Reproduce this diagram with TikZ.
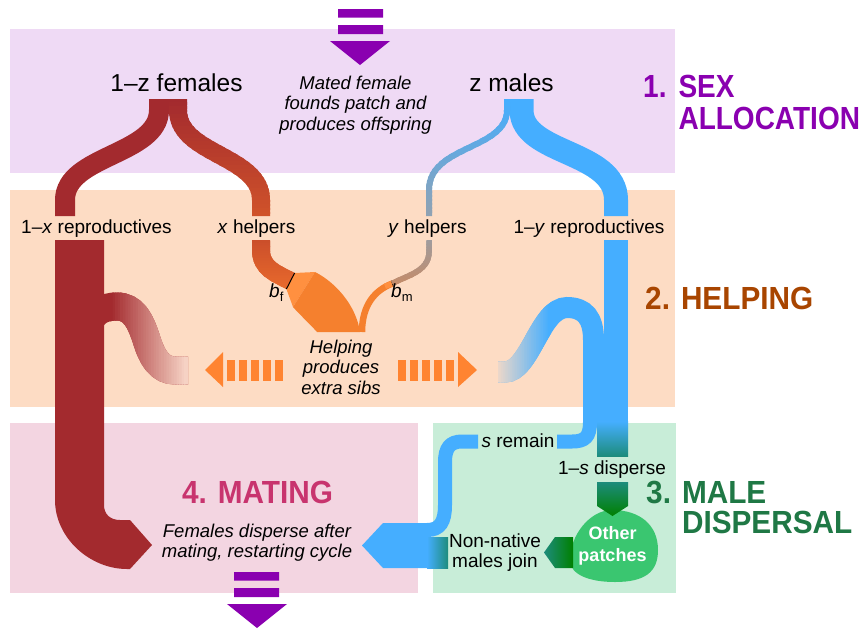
\documentclass[tikz,border=0pt]{standalone}
\usepackage{fontspec}
\setmainfont{Liberation Sans}
\newfontfamily\headfont{Liberation Sans}[FakeStretch=0.93]
\newfontfamily\headfontn{Liberation Sans}[FakeStretch=0.875]
\definecolor{bandP}{HTML}{EFDAF5}
\definecolor{bandO}{HTML}{FDDCC4}
\definecolor{bandK}{HTML}{F3D5E1}
\definecolor{bandG}{HTML}{C8EDD8}
\definecolor{purp}{HTML}{8A00B0}
\definecolor{helpT}{HTML}{A84500}
\definecolor{dispT}{HTML}{1F7845}
\definecolor{mateT}{HTML}{C8346E}
\definecolor{fem}{HTML}{A32A2E}
\definecolor{femH}{HTML}{CF522A}
\definecolor{femHb}{HTML}{E86A2C}
\definecolor{orng}{HTML}{F5802E}
\definecolor{lorng}{HTML}{FF9040}
\definecolor{arrO}{HTML}{FF8431}
\definecolor{blu}{HTML}{45AEFF}
\definecolor{greyb}{HTML}{8EA2B4}
\definecolor{tanc}{HTML}{C58B68}
\definecolor{tealc}{HTML}{1D8C7C}
\definecolor{grn}{HTML}{008000}
\definecolor{blobc}{HTML}{3AC670}
\definecolor{fadeR}{HTML}{F6D2C4}
\colorlet{fadeB}{blu!10!bandO}
% gradient strokes by overlapping stripes
\newcommand\vgrad[6]{%
  \foreach \i in {0,...,29}{%
    \pgfmathsetmacro\ya{#5+(#6-#5)*\i/30}%
    \pgfmathsetmacro\yb{#5+(#6-#5)*(\i+1)/30+1.2}%
    \pgfmathtruncatemacro\pc{round(100-\i*100/29)}%
    \begin{scope}
      \clip (-50,\ya) rectangle (950,\yb);
      \draw[line width=#2,#3!\pc!#4] #1;
    \end{scope}}}
\newcommand\hgrad[6]{%
  \foreach \i in {0,...,29}{%
    \pgfmathsetmacro\xa{#5+(#6-#5)*\i/30}%
    \pgfmathsetmacro\xb{#5+(#6-#5)*(\i+1)/30+1.2}%
    \pgfmathtruncatemacro\pc{round(100-\i*100/29)}%
    \begin{scope}
      \clip (\xa,-50) rectangle (\xb,700);
      \draw[line width=#2,#3!\pc!#4] #1;
    \end{scope}}}
\begin{document}
\begin{tikzpicture}[x=1pt,y=-1pt,
  lbl/.style={font=\fontsize{19}{22}\selectfont, inner sep=0, anchor=base},
  big/.style={font=\fontsize{24.5}{28}\selectfont, inner sep=0, anchor=base},
  itl/.style={font=\fontsize{18.5}{20.5}\selectfont\itshape, inner sep=0, anchor=base},
  head/.style={font=\headfont\bfseries\fontsize{32}{31}\selectfont, inner sep=0, anchor=base west},
  flow/.style={line width=#1},
]
\useasboundingbox (0,0) rectangle (867,630);
% bands
\fill[bandP] (10,29) rectangle (675,173);
\fill[bandO] (10,190) rectangle (675,407);
\fill[bandK] (10,423) rectangle (418,593);
\fill[bandG] (433,423) rectangle (676,593);
% purple arrows
\fill[purp] (338,9) rectangle (383,17.5) (338,25) rectangle (383,34);
\fill[purp] (330,41) -- (390,41) -- (360,65) -- cycle;
\fill[purp] (234,572) rectangle (279,580.5) (234,588) rectangle (279,597);
\fill[purp] (227,604) -- (287,604) -- (257,628) -- cycle;
% orange arrows
\fill[arrO] (205,370) -- (223,352) -- (223,387) -- cycle;
\foreach \x in {227,239,251,263,275} \fill[arrO] (\x,360) rectangle (\x+8,381);
\foreach \x in {398,410,422,434,446} \fill[arrO] (\x,360) rectangle (\x+8,381);
\fill[arrO] (477,370) -- (458,352) -- (458,387) -- cycle;
% ---------- females ----------
\coordinate (femtop) at (159,99);
\draw[flow=20, fem] (femtop) -- (159,110) .. controls (159,155) and (65,155) .. (65,200) -- (65,216);
\vgrad{(178,99) -- (178,110) .. controls (178,155) and (261,155) .. (261,200) -- (261,216)}{18}{fem}{femH}{99}{216}
\fill[fem] (55,240) -- (55,500) .. controls (55,538) and (90,569) .. (127,569) -- (130,569) -- (152,545) -- (130,520) -- (120,520) .. controls (110,520) and (104,514) .. (104,505) -- (104,240) -- cycle;
\draw[flow=28, fem] (89,400) -- (89,330) .. controls (89,314) and (101,306.5) .. (117,306.5) .. controls (133,306.5) and (140,320) .. (146,338) .. controls (152,358) and (160,370.5) .. (175,370.5) -- (188,370.5);
\hgrad{(89,400) -- (89,330) .. controls (89,314) and (101,306.5) .. (117,306.5) .. controls (133,306.5) and (140,320) .. (146,338) .. controls (152,358) and (160,370.5) .. (175,370.5) -- (188,370.5)}{28}{fem}{fadeR}{110}{186.8}
% x helpers lower
\vgrad{(261,240) -- (261,250) .. controls (261,268) and (275,273) .. (290.5,281)}{18}{femH!90!fem}{femHb}{240}{290}
\fill[lorng] (286.4,289) -- (294.6,273) -- (315,272) -- (293,307) -- cycle;
\fill[orng] (315,272) .. controls (335,282) and (356,305) .. (360,332) -- (317,332) .. controls (308,322) and (300,315) .. (293,307) -- cycle;
\draw[flow=6.5, orng] (392.5,283.5) .. controls (375,290) and (362,305) .. (362,332);
\draw[flow=5.5, lorng] (392.5,283.5) -- (385,286.3);
\draw[line width=1, black] (286.4,289) -- (294.6,273);
\draw[line width=0.9, black] (391.5,280.7) -- (393.5,286.3);
% ---------- males ----------
\draw[flow=24, blu] (521.5,99) -- (521.5,110) .. controls (521.5,155) and (616,150) .. (616,200) -- (616,216);
\vgrad{(507,99) -- (507,110) .. controls (507,150) and (429,145) .. (429,190) -- (429,216)}{6}{blu}{greyb}{99}{214.8}
\vgrad{(429,240) -- (429,252) .. controls (429,272) and (405,276) .. (392.5,283.5)}{5.5}{greyb!70!tanc}{tanc}{240}{287}
\draw[flow=24, blu] (616,240) -- (616,360);
\draw[flow=21, blu] (498,372) -- (505,372) .. controls (530,372) and (540,307.5) .. (567,307.5) .. controls (585,307.5) and (593.5,318) .. (593.5,340) -- (593.5,400);
\hgrad{(498,372) -- (505,372) .. controls (530,372) and (540,307.5) .. (567,307.5) .. controls (585,307.5) and (593.5,318) .. (593.5,340)}{21}{fadeB}{blu}{498}{550}
\fill[blu] (597,353) rectangle (628,422);
\shade[top color=blu, bottom color=tealc] (597,421.5) rectangle (628,456);
\draw[flow=14, blu] (590,395) -- (590,422) .. controls (590,437) and (585,441.5) .. (572,441.5) -- (557,441.5);
\draw[flow=14, blu] (478,441.5) -- (462,441.5) .. controls (450,441.5) and (445,448) .. (445,462) -- (445,505) .. controls (445,522) and (440,530) .. (427,530);
\fill[blu] (431,523) -- (383,523) -- (362,545.5) -- (383,568) -- (431,568) -- cycle;
\shade[left color=blu, right color=tealc] (427,537) rectangle (448,568);
% other patches
\fill[blobc] (612,510) .. controls (640,510) and (658,525) .. (658,550) .. controls (658,572) and (645,582) .. (615,582) .. controls (590,582) and (570,575) .. (570,560) .. controls (570,535) and (590,510) .. (612,510) -- cycle;
\shade[top color=tealc, bottom color=grn] (597,482) -- (628,482) -- (628,506) -- (612.5,516) -- (597,506) -- cycle;
\shade[left color=tealc, right color=grn] (573,537) -- (555,537) -- (544,552.5) -- (555,568) -- (573,568) -- cycle;
% ---------- texts ----------
\node[big] (tf) at (176.5,91) {1--z females};
\node[big] (tm) at (511.5,91) {z males};
\node[itl] (tmated) at (355.5,89) {\begin{tabular}[t]{@{}c@{}}Mated female\\founds patch and\\produces offspring\end{tabular}};
\node[head, text=purp, font=\headfontn\bfseries\fontsize{32}{31}\selectfont] (h1) at (643,97) {\begin{tabular}[t]{@{}l@{\hspace{12pt}}l@{}}1.&SEX\\[1pt]&ALLOCATION\end{tabular}};
\node[head, text=helpT] (h2) at (645,309) {2.\hspace{11pt}HELPING};
\node[head, text=dispT] (h3) at (646,503) {\begin{tabular}[t]{@{}l@{\hspace{11pt}}l@{}}3.&MALE\\[-1pt]&DISPERSAL\end{tabular}};
\node[head, text=mateT, anchor=base] (h4) at (257.5,503) {4. MATING};
\node[lbl] (rx) at (96.5,233) {1--\textit{x} reproductives};
\node[lbl] (hx) at (256.5,233) {\textit{x} helpers};
\node[lbl] (hy) at (427.5,233) {\textit{y} helpers};
\node[lbl] (ry) at (589,233) {1--\textit{y} reproductives};
\node[lbl, anchor=base west] (bf) at (269,297) {\textit{b}\raisebox{-4pt}{\fontsize{13}{13}\selectfont f}};
\node[lbl, anchor=base west] (bm) at (391,297) {\textit{b}\raisebox{-4pt}{\fontsize{13}{13}\selectfont m}};
\node[itl] (thelp) at (341,353) {\begin{tabular}[t]{@{}c@{}}Helping\\produces\\extra sibs\end{tabular}};
\node[lbl] (srem) at (518,447) {\textit{s} remain};
\node[lbl] (sdis) at (612,474) {1--\textit{s} disperse};
\node[lbl] (nonn) at (495,547) {\fontsize{19}{20}\selectfont\begin{tabular}[t]{@{}c@{}}Non-native\\males join\end{tabular}};
\node[itl] (tfem) at (257,537) {\begin{tabular}[t]{@{}c@{}}Females disperse after\\mating, restarting cycle\end{tabular}};
\node[lbl, text=white, font=\fontsize{18}{22}\selectfont\bfseries] (oth) at (612.5,539) {\begin{tabular}[t]{@{}c@{}}Other\\patches\end{tabular}};
\end{tikzpicture}
\end{document}
